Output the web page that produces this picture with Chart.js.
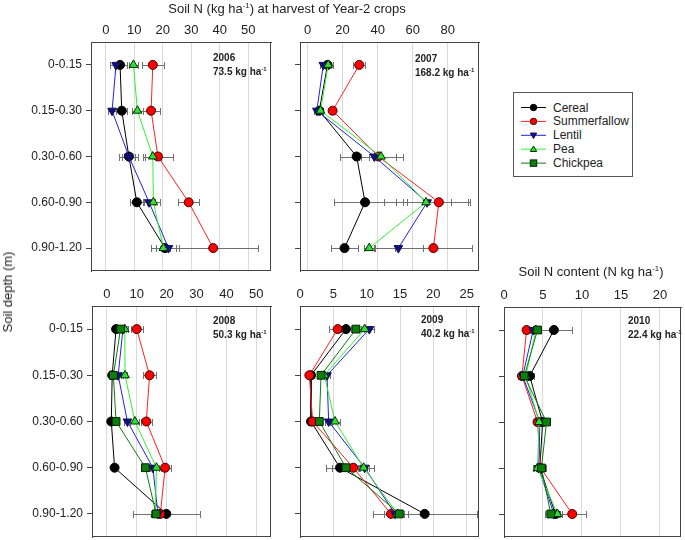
<!DOCTYPE html>
<html>
<head>
<meta charset="utf-8">
<script src="https://cdn.jsdelivr.net/npm/chart.js@4.4.0/dist/chart.umd.min.js"></script>
<style>
  body { margin: 0; background: #fff; font-family: Arial, "Liberation Sans", sans-serif; }
  #wrap { position: relative; width: 685px; height: 540px; overflow: hidden; }
  canvas { position: absolute; }
  .lbl { position: absolute; font-size: 13px; line-height: 16px; color: #222; white-space: nowrap; }
  .yr { position: absolute; font-size: 10px; font-weight: bold; line-height: 14px; color: #222; white-space: nowrap; }
  sup { font-size: 0.6em; line-height: 0; vertical-align: 0.6em; }
  #legend { position: absolute; left: 513px; top: 92px; width: 118px; height: 83px; border: 1px solid #555; background: #fff; }
  #legend svg { position: absolute; left: 0; top: 0; }
</style>
</head>
<body>
<div id="wrap">
  <canvas id="c2006" width="276" height="275" style="left:0;top:0"></canvas>
  <canvas id="c2007" width="204" height="275" style="left:280px;top:0"></canvas>
  <canvas id="c2008" width="276" height="270" style="left:0;top:270px"></canvas>
  <canvas id="c2009" width="204" height="270" style="left:280px;top:270px"></canvas>
  <canvas id="c2010" width="201" height="270" style="left:484px;top:270px"></canvas>

  <div class="lbl" style="left:287px;top:1px;transform:translateX(-50%)">Soil N (kg ha<sup>-1</sup>) at harvest of Year-2 crops</div>
  <div class="lbl" style="left:591px;top:264px;transform:translateX(-50%)">Soil N content (N kg ha<sup>-1</sup>)</div>
  <div class="lbl" style="left:8px;top:292px;transform:translate(-50%,-50%) rotate(-90deg)">Soil depth (m)</div>

  <div class="yr" style="left:213px;top:51px">2006<br>73.5 kg ha<sup>-1</sup></div>
  <div class="yr" style="left:415px;top:52px">2007<br>168.2 kg ha<sup>-1</sup></div>
  <div class="yr" style="left:213px;top:314px">2008<br>50.3 kg ha<sup>-1</sup></div>
  <div class="yr" style="left:421px;top:313px">2009<br>40.2 kg ha<sup>-1</sup></div>
  <div class="yr" style="left:628px;top:314px">2010<br>22.4 kg ha<sup>-1</sup></div>

  <div id="legend"></div>
</div>
<script>
const depths = ['0-0.15', '0.15-0.30', '0.30-0.60', '0.60-0.90', '0.90-1.20'];
const crops = ['Cereal', 'Summerfallow', 'Lentil', 'Pea', 'Chickpea'];

// soil N per crop, rows in crops order, one value per depth (null = not grown)
const n2006 = [
  [5.0, 5.6, 8.1, 10.9, 20.8],
  [16.5, 15.9, 18.3, 29.1, 37.7],
  [3.6, 2.2, 8.1, 15.2, 22.0],
  [9.7, 11.1, 16.5, 16.7, 20.2],
  null
];
const err2006 = [
  [2.3, 2.0, 3.3, 2.4, 5.0],
  [3.9, 3.0, 5.2, 3.7, 15.8],
  [2.0, 1.5, 2.3, 2.0, 2.5],
  [1.5, 2.0, 2.8, 2.3, 2.5],
  null
];

const n2007 = [
  [11.4, 6.7, 28.0, 32.8, 21.1],
  [29.5, 14.3, 40.4, 74.9, 71.8],
  [9.0, 5.3, 38.1, 68.2, 51.8],
  [11.8, 7.4, 41.9, 67.6, 35.2],
  null
];
const err2007 = [
  [3.0, 2.0, 9.5, 17.8, 7.5],
  [3.4, 1.5, 10.0, 18.0, 22.0],
  [2.0, 1.5, 3.0, 13.7, 14.0],
  [1.5, 1.5, 12.8, 23.8, 3.0],
  null
];

const n2008 = [
  [3.1, 1.8, 1.5, 2.6, 19.9],
  [10.0, 14.3, 13.2, 19.5, 17.9],
  [5.4, 3.8, 6.9, 15.4, 17.1],
  [6.0, 6.1, 9.4, 16.6, 16.2],
  [4.6, 2.2, 3.1, 12.9, 16.5]
];
const err2008 = [
  [1.0, 0.6, 0.5, 0.6, 11.3],
  [2.0, 2.2, 1.8, 2.1, 1.5],
  [1.0, 0.8, 1.0, 1.2, 1.5],
  [1.0, 0.8, 1.5, 1.5, 1.5],
  [1.0, 0.6, 0.5, 1.4, 1.5]
];

const n2009 = [
  [6.9, 1.65, 1.65, 6.0, 18.7],
  [5.65, 1.4, 1.9, 8.0, 13.65],
  [10.4, 4.05, 4.3, 9.7, 14.25],
  [9.7, 3.65, 5.25, 9.55, 14.65],
  [8.4, 3.15, 2.9, 6.9, 14.9]
];
const err2009 = [
  [0.8, 0.4, 0.4, 2.1, 7.8],
  [1.35, 0.4, 0.5, 0.9, 1.0],
  [0.75, 0.4, 0.5, 1.45, 1.0],
  [0.8, 0.4, 0.75, 0.8, 1.0],
  [0.8, 0.4, 0.4, 2.1, 1.25]
];

const n2010 = [
  [6.4, 3.3, 4.95, 4.6, 6.6],
  [2.9, 2.3, 4.3, 4.7, 8.75],
  [3.75, 2.4, 4.6, 4.45, 6.4],
  [4.1, 2.8, 4.5, 4.3, 6.85],
  [4.3, 2.6, 5.45, 4.8, 6.0]
];
const err2010 = [
  [2.3, 0.5, 0.4, 0.5, 0.6],
  [0.5, 0.5, 0.4, 0.5, 1.8],
  [0.4, 0.5, 0.4, 0.6, 0.6],
  [0.4, 0.5, 0.4, 0.6, 0.6],
  [0.4, 0.5, 0.4, 0.6, 0.8]
];

const ticks2006 = [0, 10, 20, 30, 40, 50];
const ticks2007 = [0, 20, 40, 60, 80];
const ticks2008 = [0, 10, 20, 30, 40, 50];
const ticks2009 = [0, 5, 10, 15, 20, 25];
const ticks2010 = [0, 5, 10, 15, 20];

const styles = [
  { line: '#000000', fill: '#000000', edge: '#000000', shape: 'circle', rot: 0, r: 4.5 },
  { line: '#ff2020', fill: '#ff0000', edge: '#400000', shape: 'circle', rot: 0, r: 4.5 },
  { line: '#2020e0', fill: '#101080', edge: '#101060', shape: 'triangle', rot: 180, r: 5 },
  { line: '#30f030', fill: '#30e030', edge: '#003000', shape: 'triangle', rot: 0, r: 5 },
  { line: '#107a10', fill: '#0a800a', edge: '#002000', shape: 'rect', rot: 0, r: 5.5 }
];

Chart.defaults.font.family = 'Arial, "Liberation Sans", sans-serif';
Chart.defaults.color = '#222';

const errorBars = {
  id: 'errorBars',
  beforeDatasetsDraw(chart) {
    const ctx = chart.ctx, xs = chart.scales.x, ys = chart.scales.y;
    ctx.save();
    ctx.strokeStyle = '#707070';
    ctx.lineWidth = 1;
    chart.data.datasets.forEach(ds => {
      ds.err.forEach((e, i) => {
        const v = ds.data[i].x;
        const y = Math.round(ys.getPixelForValue(i)) + 0.5;
        const x1 = Math.round(xs.getPixelForValue(v - e)) + 0.5;
        const x2 = Math.round(xs.getPixelForValue(v + e)) + 0.5;
        ctx.beginPath();
        ctx.moveTo(x1, y); ctx.lineTo(x2, y);
        ctx.moveTo(x1, y - 3.5); ctx.lineTo(x1, y + 3.5);
        ctx.moveTo(x2, y - 3.5); ctx.lineTo(x2, y + 3.5);
        ctx.stroke();
      });
    });
    ctx.restore();
  }
};

const frame = {
  id: 'frame',
  afterDraw(chart) {
    const a = chart.chartArea, ctx = chart.ctx;
    ctx.save();
    ctx.strokeStyle = '#444';
    ctx.lineWidth = 1;
    ctx.strokeRect(Math.round(a.left) + 0.5, Math.round(a.top) + 0.5,
      Math.round(a.right - a.left) - 1, Math.round(a.bottom - a.top) - 1);
    ctx.restore();
  }
};

function makePanel(id, means, errs, xMin, xMax, xTicks, showDepths, yw, xh, pr, pb) {
  const datasets = [];
  means.forEach((row, k) => {
    if (!row) return;
    const s = styles[k];
    datasets.push({
      label: crops[k],
      data: row.map((v, i) => ({ x: v, y: i })),
      err: errs[k],
      showLine: true,
      borderColor: s.line,
      borderWidth: 1,
      pointStyle: s.shape,
      rotation: s.rot,
      pointRadius: s.r,
      pointBackgroundColor: s.fill,
      pointBorderColor: s.edge,
      pointBorderWidth: 1,
      order: 5 - k
    });
  });
  new Chart(document.getElementById(id), {
    type: 'scatter',
    data: { datasets },
    options: {
      responsive: false,
      animation: false,
      layout: { autoPadding: false, padding: { left: 0, top: 0, right: pr, bottom: pb } },
      plugins: { legend: { display: false }, tooltip: { enabled: false } },
      scales: {
        x: {
          type: 'linear',
          position: 'top',
          min: xMin,
          max: xMax,
          afterBuildTicks: s => { s.ticks = xTicks.map(v => ({ value: v })); },
          afterFit: s => { s.height = xh; s.paddingLeft = 0; s.paddingRight = 0; },
          ticks: { autoSkip: false, maxRotation: 0, padding: 4, font: { size: 13 }, color: '#222' },
          grid: { color: '#dadada', drawTicks: false },
          border: { display: true, color: '#444' }
        },
        y: {
          type: 'linear',
          min: -0.5,
          max: 4.5,
          reverse: true,
          afterBuildTicks: s => { s.ticks = depths.map((d, i) => ({ value: i })); },
          afterFit: s => { s.width = yw; s.paddingTop = 0; s.paddingBottom = 0; },
          ticks: {
            autoSkip: false,
            padding: 4,
            font: { size: 12 },
            color: '#222',
            callback: v => showDepths ? depths[v] : ''
          },
          grid: { drawOnChartArea: false, drawTicks: true, tickLength: 5, tickColor: '#444' },
          border: { display: true, color: '#444' }
        }
      }
    },
    plugins: [errorBars, frame]
  });
}

makePanel('c2006', n2006, err2006, -5.2, 58, ticks2006, true, 91, 42, 5, 4);
makePanel('c2007', n2007, err2007, -4.3, 97.8, ticks2007, false, 20, 42, 5, 4);
makePanel('c2008', n2008, err2008, -4.95, 54.9, ticks2008, true, 92, 36, 5, 3);
makePanel('c2009', n2009, err2009, 0, 26.85, ticks2009, false, 20, 36, 5, 3);
makePanel('c2010', n2010, err2010, 0, 22.7, ticks2010, false, 20, 37, 4, 3);

// legend box
function marker(s, cx, cy) {
  const r = 3.2;
  if (s.shape === 'circle') {
    return `<circle cx="${cx}" cy="${cy}" r="${r}" fill="${s.fill}" stroke="${s.edge}" stroke-width="1"/>`;
  }
  if (s.shape === 'rect') {
    return `<rect x="${cx - r}" y="${cy - r}" width="${2 * r}" height="${2 * r}" fill="${s.fill}" stroke="${s.edge}" stroke-width="1"/>`;
  }
  const d = s.rot ? `M${cx - r},${cy - r * 0.7} L${cx + r},${cy - r * 0.7} L${cx},${cy + r} Z`
                  : `M${cx - r},${cy + r * 0.7} L${cx + r},${cy + r * 0.7} L${cx},${cy - r} Z`;
  return `<path d="${d}" fill="${s.fill}" stroke="${s.edge}" stroke-width="1"/>`;
}
let svg = '<svg width="118" height="83" xmlns="http://www.w3.org/2000/svg">';
crops.forEach((c, k) => {
  const s = styles[k];
  const y = 14.5 + k * 13.9;
  svg += `<line x1="7" y1="${y}" x2="32" y2="${y}" stroke="${s.line}" stroke-width="1"/>`;
  svg += marker(s, 19.5, y);
  svg += `<text x="39" y="${y + 4}" font-size="12" fill="#222" font-family="Arial, Liberation Sans, sans-serif">${c}</text>`;
});
svg += '</svg>';
document.getElementById('legend').innerHTML = svg;
</script>
</body>
</html>
